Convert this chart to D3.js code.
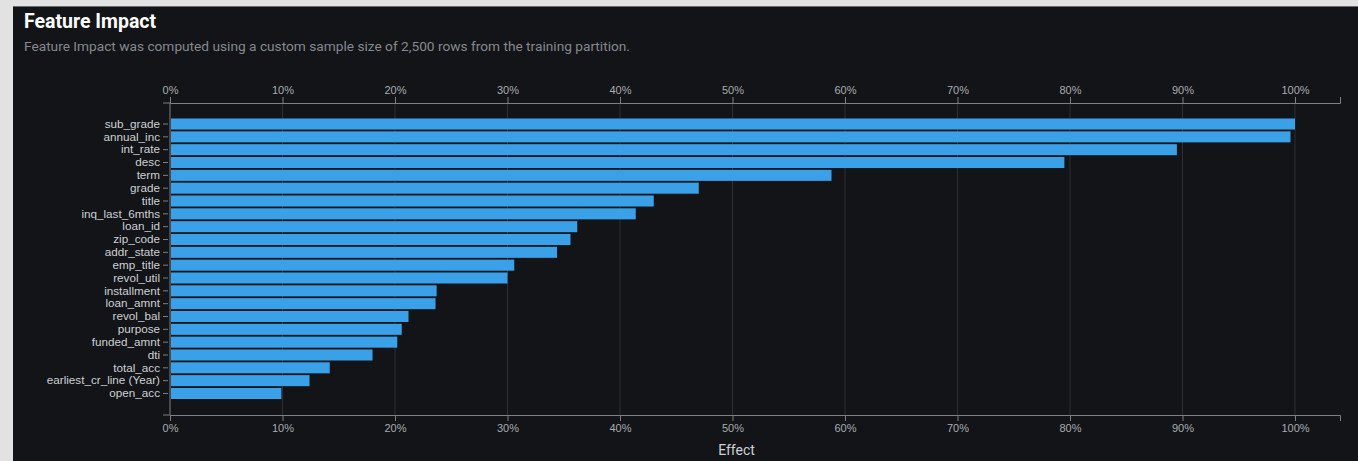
<!DOCTYPE html>
<html><head><meta charset="utf-8">
<script src="https://cdn.jsdelivr.net/npm/d3@7"></script>
<style>
html,body{margin:0;padding:0;background:#e2e2e2;}
svg{display:block;font-family:Roboto, "Open Sans", sans-serif;}
</style></head>
<body>
<svg id="chart" width="1358" height="461"></svg>
<script>
const features = ["sub_grade","annual_inc","int_rate","desc","term","grade","title","inq_last_6mths","loan_id","zip_code","addr_state","emp_title","revol_util","installment","loan_amnt","revol_bal","purpose","funded_amnt","dti","total_acc","earliest_cr_line (Year)","open_acc"];
const effects = [1.000,0.996,0.895,0.795,0.588,0.470,0.430,0.414,0.362,0.356,0.344,0.306,0.300,0.237,0.236,0.212,0.206,0.202,0.180,0.142,0.124,0.099];
const tickValues = [0,0.1,0.2,0.3,0.4,0.5,0.6,0.7,0.8,0.9,1.0];
const titleText = "Feature Impact";
const subtitleText = "Feature Impact was computed using a custom sample size of 2,500 rows from the training partition.";
const xLabel = "Effect";

const svg = d3.select("#chart");
svg.append("rect").attr("x",0).attr("y",0).attr("width",1358).attr("height",461).attr("fill","#e2e2e2");
svg.append("rect").attr("x",13).attr("y",6).attr("width",1345).attr("height",455).attr("fill","#121417");
svg.append("rect").attr("x",13).attr("y",6).attr("width",1345).attr("height",1).attr("fill","#6a6a6a");

svg.append("text").attr("x",24).attr("y",28).attr("fill","#ffffff").attr("font-size",19.5).attr("font-weight","bold").text(titleText);
svg.append("text").attr("x",24).attr("y",51).attr("fill","#85898e").attr("font-size",13.7).text(subtitleText);

const x0 = 170, axTop = 103, axBottom = 415;
const x = d3.scaleLinear().domain([0,1.04]).range([x0, x0 + 1125*1.04]);
const y = d3.scaleBand().domain(features).range([118.5,399]).paddingInner(0.14);

// grid
svg.append("g").selectAll("line").data(tickValues.slice(1)).join("line")
  .attr("x1",d=>x(d)).attr("x2",d=>x(d)).attr("y1",axTop).attr("y2",axBottom)
  .attr("stroke","#2c2f33").attr("stroke-width",1);

// bars
svg.append("g").selectAll("rect").data(features).join("rect")
  .attr("x",x(0)+1).attr("y",d=>y(d))
  .attr("width",(d,i)=>x(effects[i])-x(0)-1).attr("height",y.bandwidth())
  .attr("fill","#3aa1e8");

function styleAxis(g){
  g.selectAll("path").attr("stroke","#7c7f84");
  g.selectAll("line").attr("stroke","#7c7f84");
  g.selectAll("text").attr("fill","#a9acb0").attr("font-size",11);
}
const fmt = d3.format(".0%");
const xTopAxis = d3.axisTop(x).tickValues(tickValues).tickFormat(fmt).tickSize(6).tickSizeOuter(6);
const gTop = svg.append("g").attr("transform",`translate(0,${axTop})`).call(xTopAxis);
styleAxis(gTop);
const xBotAxis = d3.axisBottom(x).tickValues(tickValues).tickFormat(fmt).tickSize(6).tickSizeOuter(6);
const gBot = svg.append("g").attr("transform",`translate(0,${axBottom})`).call(xBotAxis);
styleAxis(gBot);
[axTop,axBottom].forEach(yy=>svg.append("line").attr("x1",163).attr("x2",x0).attr("y1",yy).attr("y2",yy).attr("stroke","#7c7f84"));

const yAx = d3.axisLeft(y).tickSize(5).tickSizeOuter(0).tickPadding(3);
const gY = svg.append("g").attr("transform",`translate(${x0-2},0)`).call(yAx);
gY.select("path").remove();
gY.selectAll("line").attr("stroke","#7c7f84");
gY.selectAll("text").attr("fill","#cdd0d4").attr("font-size",11.7);
svg.append("line").attr("x1",x0).attr("x2",x0).attr("y1",axTop).attr("y2",axBottom).attr("stroke","#7c7f84");

svg.append("text").attr("x",(x(0)+x(1))/2 + 4).attr("y",455).attr("text-anchor","middle")
  .attr("fill","#cdd0d4").attr("font-size",14).text(xLabel);
</script>
</body></html>
